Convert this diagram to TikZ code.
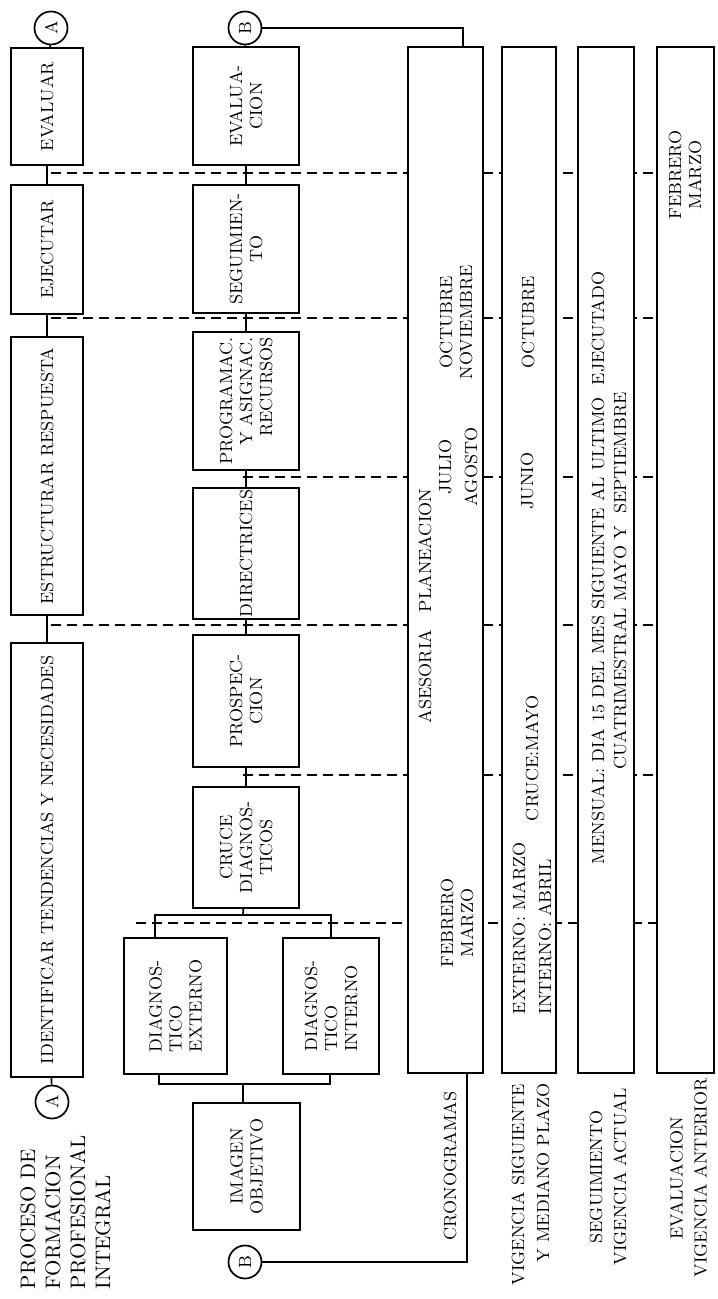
\documentclass[tikz,border=0pt]{standalone}
\usepackage{tikz}
\usetikzlibrary{positioning,backgrounds}

\begin{document}
\begin{tikzpicture}[x=0.5pt,y=-0.5pt,line width=0.85pt,
  every node/.style={font=\fontsize{8.8}{10}\selectfont,align=center},
  proc/.style 2 args={draw,fill=white,rotate=90,inner sep=1pt,minimum width=#1,minimum height=#2},
  conn/.style={draw,circle,fill=white,rotate=90,inner sep=0pt,minimum size=16.5pt},
  txt/.style={rotate=90,inner sep=0pt},
  guia/.style={line width=0.7pt,dash pattern=on 5pt off 3pt}]
\useasboundingbox (0,0) rectangle (717,1299);
% etapas del proceso
\node[proc={58.5pt}{36pt}] (evaluar) at (47,106.5) {EVALUAR};
\node[proc={64.5pt}{36pt}] (ejecutar) at (47,249.5) {EJECUTAR};
\node[proc={139pt}{36pt}] (estruct) at (47,476) {ESTRUCTURAR RESPUESTA};
\node[proc={217pt}{36pt}] (identif) at (47,860) {IDENTIFICAR TENDENCIAS Y NECESIDADES};
\node[conn] (Aup) at (51,28) {A};
\node[conn] (Adown) at (52,1102) {A};
\draw (Aup) -- (evaluar) -- (ejecutar) -- (estruct) -- (identif) -- (Adown);
% actividades
\node[proc={59pt}{53pt}] (evaluacion) at (246,106) {EVALUA-\\CION};
\node[proc={64pt}{53pt}] (seguim) at (246,249) {SEGUIMIEN-\\TO};
\node[proc={69pt}{53pt},align=right] (program) at (246,401) {PROGRAMAC.\\Y ASIGNAC.\\RECURSOS};
\node[proc={63.5pt}{53pt}] (direct) at (246,553.5) {DIRECTRICES};
\node[proc={66pt}{53pt}] (prospec) at (246,701) {PROSPEC-\\CION};
\node[proc={60.5pt}{53pt}] (cruce) at (246,847.5) {CRUCE\\DIAGNOS-\\TICOS};
\node[proc={68pt}{51.5pt},align=left] (dexterno) at (175.5,1006) {DIAGNOS-\\TICO\\EXTERNO};
\node[proc={68pt}{48pt},align=left] (dinterno) at (331,1006) {DIAGNOS-\\TICO\\INTERNO};
\node[proc={63.5pt}{53.5pt}] (imagen) at (246.5,1166.5) {IMAGEN\\OBJETIVO};
\node[conn] (Bup) at (245,28) {B};
\node[conn] (Bdown) at (245,1262) {B};
\draw (Bup) -- (evaluacion) -- (seguim) -- (program) -- (direct) -- (prospec) -- (cruce);
\coordinate (j1) at (243,915);
\coordinate (b1) at (155,915);
\coordinate (b2) at (331,915);
\draw (cruce) -- (j1);
\draw (b1 |- dexterno.east) -- (b1) -- (b2) -- (dinterno);
\coordinate (j2) at (243,1084);
\coordinate (b3) at (159,1084);
\coordinate (b4) at (330,1084);
\draw (b3 |- dexterno.west) -- (b3) -- (b4) -- (b4 |- dinterno.west);
\draw (j2) -- (j2 |- imagen.east);
% cronogramas
\node[proc={513pt}{37.5pt}] (cronog) at (445.5,560) {};
\node[proc={513pt}{27pt}] (vsig) at (529,560) {};
\node[proc={513pt}{28pt}] (vact) at (606,560) {};
\node[proc={513pt}{28.5pt}] (vant) at (685.5,560) {};
\coordinate (ctop) at (463,47);
\coordinate (cbot) at (467,1073);
\draw (Bup) -| (ctop);
\draw (Bdown) -| (cbot);
\node[txt] (ases) at (425,606) {ASESORIA\quad PLANEACION};
\node[txt] (feb1) at (457,923) {FEBRERO\\MARZO};
\node[txt] (jul) at (458,467) {JULIO\\[3pt]AGOSTO};
\node[txt] (oct1) at (456,322) {OCTUBRE\\NOVIEMBRE};
\node[txt,align=left,anchor=west] (extint) at (532,1015) {EXTERNO: MARZO\\[3pt]INTERNO: ABRIL};
\node[txt] (cruc) at (532,758) {CRUCE:MAYO};
\node[txt] (jun) at (527,481) {JUNIO};
\node[txt] (oct2) at (528,322) {OCTUBRE};
\node[txt] (mens) at (598,568) {MENSUAL: DIA 15 DEL MES SIGUIENTE AL ULTIMO\ \ EJECUTADO};
\node[txt] (cuat) at (620,581) {CUATRIMESTRAL MAYO Y\ \ SEPTIEMBRE};
\node[txt] (feb2) at (685,175) {FEBRERO\\MARZO};
% rotulos
\node[txt] (crono) at (450,1166) {CRONOGRAMAS};
\node[txt,align=right,anchor=east] (vigsig) at (530.5,1083) {VIGENCIA SIGUIENTE\\[2.5pt]Y MEDIANO PLAZO};
\node[txt] (segact) at (608,1177) {SEGUIMIENTO\\[2pt]VIGENCIA ACTUAL};
\node[txt] (evalant) at (688.5,1178) {EVALUACION\\[2pt]VIGENCIA ANTERIOR};
\node[txt,align=left,anchor=west,font=\fontsize{10.5}{12.5}\selectfont] (titulo) at (65.5,1290) {PROCESO DE\\FORMACION\\PROFESIONAL\\INTEGRAL};
% lineas de corte
\begin{scope}[on background layer]
\foreach \xs/\yd in {51/173,51/318,243/477,51/625,243/775,136/923}{
  \path (0,\yd) coordinate (gy);
  \draw[guia] (\xs,\yd) -- (vant.north |- gy);
}
\end{scope}
\end{tikzpicture}
\end{document}
